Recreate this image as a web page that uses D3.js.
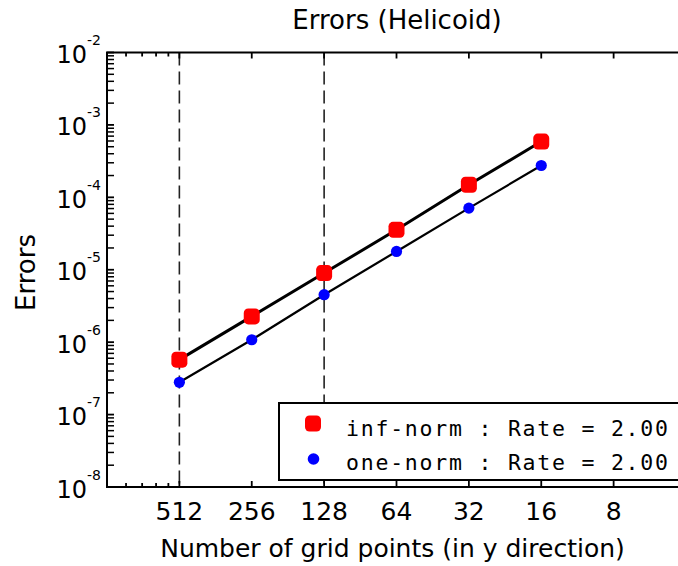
<!DOCTYPE html>
<html>
<head>
<meta charset="utf-8">
<script src="https://cdn.jsdelivr.net/npm/d3@7"></script>
<style>
  html, body { margin: 0; padding: 0; background: #fff; overflow: hidden; }
  svg { display: block; }
</style>
</head>
<body>
<script>
// ---- data ----
const gridPoints = [512, 256, 128, 64, 32, 16];
const infNorm = [5.74e-7, 2.27e-6, 9.0e-6, 3.56e-5, 1.49e-4, 5.89e-4];
const oneNorm = [2.79e-7, 1.08e-6, 4.52e-6, 1.79e-5, 7.1e-5, 2.75e-4];
const xTickValues = [512, 256, 128, 64, 32, 16, 8];
const xTickLabels = ["512", "256", "128", "64", "32", "16", "8"];
const xMinorTicks = [853.3, 731.4, 640, 568.9];
const yTickExponents = [-2, -3, -4, -5, -6, -7, -8];
const dashedAt = [512, 128];
const legendLabels = ["inf-norm : Rate = 2.00", "one-norm : Rate = 2.00"];
const titleText = "Errors (Helicoid)";
const xTitle = "Number of grid points (in y direction)";
const yTitle = "Errors";

const W = 678, H = 566;
const L = 107, R = 686, T = 52.5, B = 487;

const svg = d3.select("body").append("svg").attr("width", W).attr("height", H);

const x = d3.scaleLog().base(2).domain([1024, 4]).range([L, R]);
const y = d3.scaleLog().domain([1e-8, 1e-2]).range([B, T]);

// dashed vertical lines
svg.selectAll("line.dash").data(dashedAt).enter().append("line")
  .attr("x1", d => x(d)).attr("x2", d => x(d))
  .attr("y1", T).attr("y2", B)
  .attr("stroke", "#222").attr("stroke-width", 1.6)
  .attr("stroke-dasharray", "13,6");

// data lines
const line = d3.line().x(d => x(d[0])).y(d => y(d[1]));
svg.append("path").datum(gridPoints.map((g, i) => [g, infNorm[i]]))
  .attr("d", line).attr("fill", "none").attr("stroke", "#000").attr("stroke-width", 3);
svg.append("path").datum(gridPoints.map((g, i) => [g, oneNorm[i]]))
  .attr("d", line).attr("fill", "none").attr("stroke", "#000").attr("stroke-width", 2.2);

// markers
svg.selectAll("rect.inf").data(gridPoints.map((g, i) => [g, infNorm[i]])).enter().append("rect")
  .attr("x", d => x(d[0]) - 8).attr("y", d => y(d[1]) - 8)
  .attr("width", 16).attr("height", 16).attr("rx", 4.5)
  .attr("fill", "#ff0000");
svg.selectAll("circle.one").data(gridPoints.map((g, i) => [g, oneNorm[i]])).enter().append("circle")
  .attr("cx", d => x(d[0])).attr("cy", d => y(d[1])).attr("r", 5.6)
  .attr("fill", "#0000ff");

// legend
const lg = svg.append("g");
lg.append("rect").attr("x", 279).attr("y", 403).attr("width", 440).attr("height", 77)
  .attr("fill", "#fff").attr("stroke", "#000").attr("stroke-width", 2);
lg.append("rect").attr("x", 313 - 8).attr("y", 423.5 - 8).attr("width", 16).attr("height", 16)
  .attr("rx", 4.5).attr("fill", "#ff0000");
lg.append("circle").attr("cx", 313.5).attr("cy", 459).attr("r", 5.8).attr("fill", "#0000ff");
lg.selectAll("text").data(legendLabels).enter().append("text")
  .attr("x", 346).attr("y", (d, i) => 436 + i * 34)
  .attr("font-family", "'DejaVu Sans Mono', 'Liberation Mono', monospace")
  .attr("font-size", 21.5)
  .attr("textLength", 322).attr("lengthAdjust", "spacing")
  .attr("fill", "#000")
  .style("white-space", "pre")
  .text(d => d);

// axes frame
svg.append("rect").attr("x", L).attr("y", T).attr("width", R - L).attr("height", B - T)
  .attr("fill", "none").attr("stroke", "#000").attr("stroke-width", 2);

// x ticks (bottom up, top down)
const xt = svg.append("g");
xTickValues.forEach(v => {
  xt.append("line").attr("x1", x(v)).attr("x2", x(v)).attr("y1", B).attr("y2", B - 6)
    .attr("stroke", "#000").attr("stroke-width", 1.8);
  xt.append("line").attr("x1", x(v)).attr("x2", x(v)).attr("y1", T).attr("y2", T + 6)
    .attr("stroke", "#000").attr("stroke-width", 1.8);
});
xMinorTicks.forEach(v => {
  xt.append("line").attr("x1", x(v)).attr("x2", x(v)).attr("y1", B).attr("y2", B - 4)
    .attr("stroke", "#000").attr("stroke-width", 1.8);
  xt.append("line").attr("x1", x(v)).attr("x2", x(v)).attr("y1", T).attr("y2", T + 4)
    .attr("stroke", "#000").attr("stroke-width", 1.8);
});
xt.selectAll("text").data(xTickValues).enter().append("text")
  .attr("x", d => x(d)).attr("y", 520)
  .attr("text-anchor", "middle")
  .attr("font-family", "'DejaVu Sans', sans-serif").attr("font-size", 25)
  .attr("fill", "#000")
  .text((d, i) => xTickLabels[i]);

// y ticks
const yt = svg.append("g");
yTickExponents.forEach(e => {
  const v = Math.pow(10, e);
  yt.append("line").attr("x1", L).attr("x2", L + 7).attr("y1", y(v)).attr("y2", y(v))
    .attr("stroke", "#000").attr("stroke-width", 1.8);
  if (e > -8) {
    for (let k = 2; k <= 9; k++) {
      const mv = k * Math.pow(10, e - 1);
      yt.append("line").attr("x1", L).attr("x2", L + 7).attr("y1", y(mv)).attr("y2", y(mv))
        .attr("stroke", "#000").attr("stroke-width", 1.5);
    }
  }
  const t = yt.append("text").attr("x", 101).attr("y", y(v) + 10.5)
    .attr("text-anchor", "end")
    .attr("font-family", "'DejaVu Sans', sans-serif").attr("font-size", 24)
    .attr("fill", "#000");
  t.append("tspan").text("10");
  t.append("tspan").attr("dy", -18).attr("font-size", 14).text(String(e));
});

// titles
svg.append("text").attr("x", 397).attr("y", 29)
  .attr("text-anchor", "middle")
  .attr("font-family", "'DejaVu Sans', sans-serif").attr("font-size", 26)
  .attr("fill", "#000").text(titleText);
svg.append("text").attr("x", 392.5).attr("y", 556.5)
  .attr("text-anchor", "middle")
  .attr("font-family", "'DejaVu Sans', sans-serif").attr("font-size", 25)
  .attr("fill", "#000").text(xTitle);
svg.append("text")
  .attr("transform", "translate(35,272.5) rotate(-90)")
  .attr("text-anchor", "middle")
  .attr("font-family", "'DejaVu Sans', sans-serif").attr("font-size", 26)
  .attr("fill", "#000").text(yTitle);
</script>
</body>
</html>
